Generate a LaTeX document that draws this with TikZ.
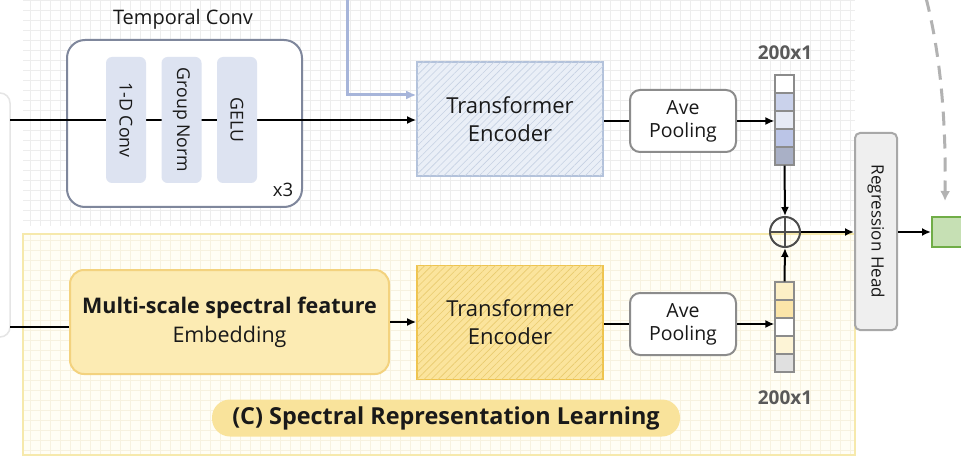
\documentclass[tikz,border=0pt]{standalone}
\usepackage{fontspec}
\setmainfont{Open Sans}
\usetikzlibrary{patterns.meta,arrows.meta,positioning}

\definecolor{gridgray}{HTML}{EDEDED}
\definecolor{yelgrid}{HTML}{F7F2E0}
\definecolor{yelpanel}{HTML}{FFFEF5}
\definecolor{yelborder}{HTML}{F6E9AC}
\definecolor{convedge}{HTML}{7F879C}
\definecolor{convfill}{HTML}{DDE3F1}
\definecolor{tbfill}{HTML}{EAEFF7}
\definecolor{tbedge}{HTML}{B3C2DB}
\definecolor{tbhatch}{HTML}{C6D1E3}
\definecolor{arrowblue}{HTML}{A7B5DA}
\definecolor{msfill}{HTML}{FCEBB3}
\definecolor{msedge}{HTML}{F3D27E}
\definecolor{tyfill}{HTML}{FBE49C}
\definecolor{tyedge}{HTML}{EFC44E}
\definecolor{tyhatch}{HTML}{E9CB6E}
\definecolor{bannerfill}{HTML}{F9E39B}
\definecolor{regfill}{HTML}{EFEFEF}
\definecolor{regedge}{HTML}{A8A8A8}
\definecolor{outfill}{HTML}{C6E0B4}
\definecolor{outedge}{HTML}{70AD47}
\definecolor{vb1}{HTML}{CAD2EB}
\definecolor{vb2}{HTML}{E6EAF5}
\definecolor{vb3}{HTML}{BBC5E7}
\definecolor{vb4}{HTML}{A9B0C6}
\definecolor{vy1}{HTML}{FCEFC6}
\definecolor{vy2}{HTML}{FBE5A9}
\definecolor{vy3}{HTML}{FDF4D6}
\definecolor{vy4}{HTML}{E0E0E0}

\tikzset{
  every node/.style={inner sep=0pt, text=black!90},
  conn/.style={line width=2pt, black},
  arr/.style={conn, -{Latex[length=9pt,width=8pt]}},
  convbox/.style={draw=convedge, fill=white, line width=2pt, rounded corners=18pt,
    minimum width=235pt, minimum height=167pt},
  layerbox/.style={fill=convfill, rounded corners=6pt, minimum width=40pt,
    minimum height=126pt, font=\fontsize{17.7}{20}\selectfont},
  encbox/.style={line width=1.6pt, minimum width=186pt, minimum height=114pt,
    align=center, font=\fontsize{22}{28}\selectfont},
  poolbox/.style={draw=black!45, fill=white, line width=2pt, rounded corners=10pt,
    minimum width=106pt, minimum height=62pt, align=center,
    font=\fontsize{19.5}{23}\selectfont},
  cellbox/.style={draw=black!45, line width=1.2pt, minimum width=19pt, minimum height=18pt},
  dimlabel/.style={font=\bfseries\fontsize{19}{22}\selectfont, text=black!65},
}

\begin{document}
\begin{tikzpicture}[x=1pt,y=-1pt]
\useasboundingbox (0,0) rectangle (961,457);
\fill[white] (0,0) rectangle (961,457);

% background grids
\draw[gridgray, line width=0.5pt, step=10pt] (23,0) grid (855,226);
\fill[yelpanel] (23,234) rectangle (855,455);
\draw[yelgrid, line width=0.5pt, step=10pt] (23,234) grid (855,455);
\draw[yelborder, line width=1.4pt] (23,234) rectangle (855,455);
\draw[black!10, line width=1.5pt, rounded corners=10pt] (-30,93) rectangle (10,337);

% temporal branch
\node (tclabel) at (183,19) {\fontsize{20}{23}\selectfont Temporal Conv};
\node[encbox, draw=tbedge, fill=tbfill,
  postaction={pattern={Lines[angle=45,distance=5pt,line width=0.6pt]},
  pattern color=tbhatch}] (encA) at (510,119) {Transformer\\Encoder};
\node[convbox] (conv) at (184.5,123.5) {};
\coordinate (inA) at (10,120);
\draw[arr] (inA) -- (inA -| encA.west);
\node[layerbox] (cnv) at (126,120) {\rotatebox{-90}{1-D Conv}};
\node[layerbox] (gnorm) at (181.5,120) {\rotatebox{-90}{Group Norm}};
\node[layerbox] (gelu) at (237,120) {\rotatebox{-90}{GELU}};
\node (rep) at (283,190) {\fontsize{18.5}{21}\selectfont x3};

\coordinate (bluetop) at (347,-2);
\draw[arrowblue, line width=3pt, -{Latex[length=10pt,width=9pt]}]
  (bluetop) |- ([yshift=24pt]encA.west);

\node[poolbox] (poolA) at (683,121) {Ave\\Pooling};
\draw[conn] (encA.east |- poolA) -- (poolA.west);
\foreach \c [count=\i] in {white,vb1,vb2,vb3,vb4}
  \node[cellbox, fill=\c] (va\i) at (784.5,{84+18*(\i-1)}) {};
\node[dimlabel] (dimA) at (785,53) {200x1};
\draw[arr] (poolA.east) -- (poolA.east -| va1.west);

% spectral branch
\node[draw=msedge, fill=msfill, line width=2pt, rounded corners=14pt,
  minimum width=319pt, minimum height=104pt, align=center,
  font=\fontsize{21.5}{29}\selectfont] (msemb) at (229.5,322)
  {\textbf{Multi-scale spectral feature}\\Embedding};
\coordinate (inB) at (10,327);
\draw[conn] (inB) -- (inB -| msemb.west);
\node[encbox, draw=tyedge, fill=tyfill,
  postaction={pattern={Lines[angle=45,distance=5pt,line width=0.6pt]},
  pattern color=tyhatch}] (encB) at (510,322.5) {Transformer\\Encoder};
\draw[arr] (msemb.east) -- (encB.west |- msemb);
\node[poolbox] (poolB) at (683,324) {Ave\\Pooling};
\draw[conn] (encB.east |- poolB) -- (poolB.west);
\foreach \c [count=\i] in {vy1,vy2,white,vy3,vy4}
  \node[cellbox, fill=\c] (vb\i) at (784.5,{291+18*(\i-1)}) {};
\node[dimlabel] (dimB) at (785,398) {200x1};
\draw[arr] (poolB.east) -- (poolB.east -| vb1.west);
\node[fill=bannerfill, rounded corners=18pt, minimum width=468pt, minimum height=37pt,
  font=\bfseries\fontsize{23.4}{27}\selectfont] (banner) at (446,418)
  {(C) Spectral Representation Learning};

% fusion and head
\node[circle, draw=black!70, line width=2pt, minimum size=30pt] (sum) at (785,232) {};
\draw[black!70, line width=1.6pt] (sum.north) -- (sum.south) (sum.west) -- (sum.east);
\draw[arr] (va5.south) -- (sum.north);
\draw[arr] (vb1.north) -- (sum.south);
\node[draw=regedge, fill=regfill, line width=2pt, rounded corners=5pt,
  minimum width=42pt, minimum height=197pt, font=\fontsize{17}{20}\selectfont] (reg)
  at (876,231.5) {\rotatebox{-90}{Regression Head}};
\draw[arr] (sum.east) -- (sum.east -| reg.west);
\node[draw=outedge, fill=outfill, line width=2pt, minimum width=40pt,
  minimum height=30pt] (outg) at (952,232) {};
\draw[arr] (reg.east |- outg) -- (outg.west);
\coordinate (dtop) at (926,-2);
\coordinate (dend) at (945,201);
\draw[black!30, line width=3pt, dash pattern=on 14pt off 9pt,
  -{Latex[length=10pt,width=10pt]}] (dtop) .. controls (942,60) and (946,130) .. (dend);
\end{tikzpicture}
\end{document}
